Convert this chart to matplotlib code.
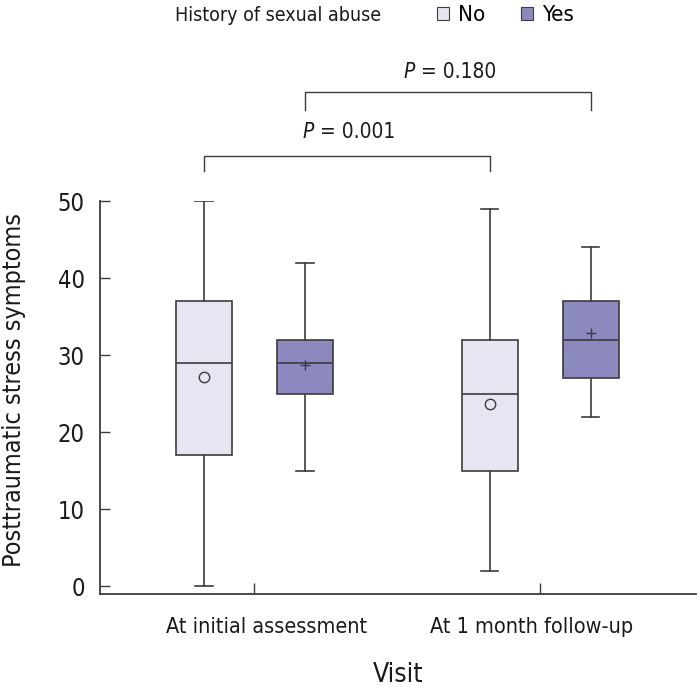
import numpy as np
import matplotlib
matplotlib.use("Agg")
from matplotlib import pyplot as plt
from matplotlib.patches import Patch
from matplotlib.transforms import ScaledTranslation

plt.rcParams['font.family'] = ['DejaVu Sans']
plt.rcParams['font.stretch'] = 'condensed'

# Data ------------------------------------------
visits = ["At initial assessment", "At 1 month follow-up"]
groups = ["No", "Yes"]
# per box: [No initial, Yes initial, No follow-up, Yes follow-up]
whislo = [0, 15, 2, 22]
q1 = [17, 25, 15, 27]
med = [29, 29, 25, 32]
q3 = [37, 32, 32, 37]
whishi = [50, 42, 49, 44]
means = [27.1, 28.7, 23.6, 32.9]
p_labels = ["0.001", "0.180"]

edge = "#3c3c3c"
fills = {"No": "#e7e5f1", "Yes": "#8c89bf"}

fig = plt.figure(figsize=(6.98, 6.87), dpi=100)
ax = fig.add_axes([0.1433, 0.1358, 0.8537, 0.5716])

offset = 0.1766
positions = []
box_groups = []
for i, v in enumerate(visits):
    for j, g in enumerate(groups):
        positions.append(i + (offset if j else -offset))
        box_groups.append(g)

stats = []
for k in range(len(positions)):
    stats.append(dict(whislo=whislo[k], q1=q1[k], med=med[k], q3=q3[k],
                      whishi=whishi[k], mean=means[k], fliers=[]))

bp = ax.bxp(stats, positions=positions, widths=0.196, patch_artist=True,
            showmeans=False, showfliers=False, capwidths=0.06,
            boxprops=dict(edgecolor=edge, linewidth=1.2),
            medianprops=dict(color=edge, linewidth=1.2),
            whiskerprops=dict(color=edge, linewidth=1.2),
            capprops=dict(color=edge, linewidth=1.2))
for box, g in zip(bp['boxes'], box_groups):
    box.set_facecolor(fills[g])

for pos, m, g in zip(positions, means, box_groups):
    if g == "No":
        ax.plot(pos, m, marker="o", markersize=7.5, markerfacecolor="none",
                markeredgecolor=edge, markeredgewidth=1.0, zorder=5)
    else:
        ax.plot(pos, m, marker="+", markersize=7.5, color=edge,
                markeredgewidth=1.0, zorder=5)

# significance brackets: No initial vs No follow-up, Yes initial vs Yes follow-up
brackets = [(positions[0], positions[2], 55.9, 53.9, 59.0, p_labels[0]),
            (positions[1], positions[3], 64.1, 61.8, 66.8, p_labels[1])]
for x1, x2, top, leg, ty, lab in brackets:
    ax.plot([x1, x1, x2, x2], [leg, top, top, leg], color=edge, lw=1.0,
            clip_on=False)
    xc = (x1 + x2) / 2
    ax.annotate("P", (xc, ty), xytext=(-24, 0), textcoords="offset points",
                ha="right", va="center", fontsize=15, style="italic",
                color="#1a1a1a", annotation_clip=False)
    ax.annotate(" = " + lab, (xc, ty), xytext=(-24, 0),
                textcoords="offset points", ha="left", va="center",
                fontsize=15, color="#1a1a1a", annotation_clip=False)

ax.set_xlim(-0.540, 1.544)
ax.set_ylim(-1, 50)
ax.set_yticks([0, 10, 20, 30, 40, 50])
ax.set_xticks([0, 1])
ax.set_xticklabels(visits)
ax.tick_params(axis="y", direction="in", length=7.5, width=1.0, color=edge,
               labelsize=17, pad=11, labelcolor="#1a1a1a")
ax.tick_params(axis="x", direction="in", length=8, width=1.0, color=edge,
               labelsize=15.5, pad=17, labelcolor="#1a1a1a")
# labels sit a little off their ticks in the original
for lbl, dx in zip(ax.get_xticklabels(), [12, -9]):
    lbl.set_transform(lbl.get_transform() +
                      ScaledTranslation(dx / 100, 0, fig.dpi_scale_trans))
for s in ["top", "right"]:
    ax.spines[s].set_visible(False)
for s in ["left", "bottom"]:
    ax.spines[s].set_color(edge)
    ax.spines[s].set_linewidth(1.3)
ax.spines["left"].set_bounds(-1, 50)

ax.set_ylabel("Posttraumatic stress symptoms", fontsize=18, color="#1a1a1a")
ax.yaxis.set_label_coords(-0.124, 0.519)
ax.set_xlabel("Visit", fontsize=19, color="#1a1a1a", labelpad=18)

# legend
fig.text(0.251, 0.978, "History of sexual abuse", fontsize=14, va="center",
         ha="left", color="#1a1a1a")
handles = [Patch(facecolor=fills[g], edgecolor=edge, linewidth=0.8) for g in groups]
fig.legend(handles, groups, loc="center left", bbox_to_anchor=(0.626, 0.978),
           ncol=2, frameon=False, fontsize=16, handlelength=0.55,
           handleheight=0.55, handletextpad=0.4, columnspacing=1.6,
           borderpad=0, borderaxespad=0)

fig.savefig("out.png", dpi=100)
